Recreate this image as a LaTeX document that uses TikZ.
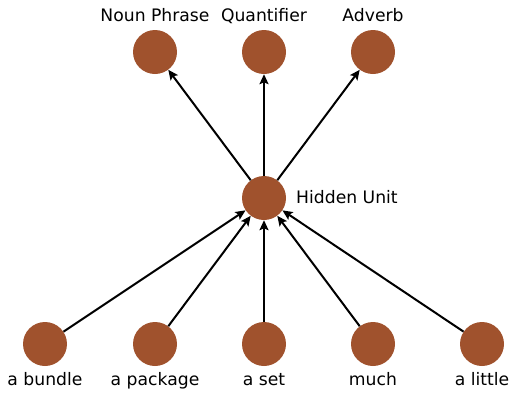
\documentclass[tikz,border=0pt]{standalone}
\usepackage{fontspec}
\setmainfont{DejaVu Sans}
\usetikzlibrary{arrows.meta}
\definecolor{unitbrown}{HTML}{A0522D}
\begin{document}
\begin{tikzpicture}[
    x=1pt, y=-1pt,
    unit/.style={circle, fill=unitbrown, minimum size=44pt, inner sep=0pt},
    lbl/.style={font=\fontsize{17.2}{20}\selectfont, inner sep=0pt, anchor=base},
    arrow/.style={-{Stealth[length=10pt, width=9pt, inset=2pt]}, line width=2pt}
]
    \useasboundingbox (0,0) rectangle (509,392);

    % Hidden unit
    \node[unit] (hidden) at (264, 198) {};
    \node[lbl, anchor=base west] (hiddenlbl) at (296, 203) {Hidden Unit};

    % Output units
    \foreach \i/\x/\label in {np/155/Noun Phrase, qt/264/Quantifier, adv/373/Adverb} {
        \node[unit] (\i) at (\x, 52) {};
        \node[lbl] (\i lbl) at (\x, 21) {\label};
        \draw[arrow] (hidden) -- (\i);
    }

    % Input units
    \foreach \i/\x/\label in {bun/45/a bundle, pkg/155/a package, set/264/a set, much/373/much, lit/482/a little} {
        \node[unit] (\i) at (\x, 344) {};
        \node[lbl] (\i lbl) at (\x, 385) {\label};
        \draw[arrow] (\i) -- (hidden);
    }
\end{tikzpicture}
\end{document}
